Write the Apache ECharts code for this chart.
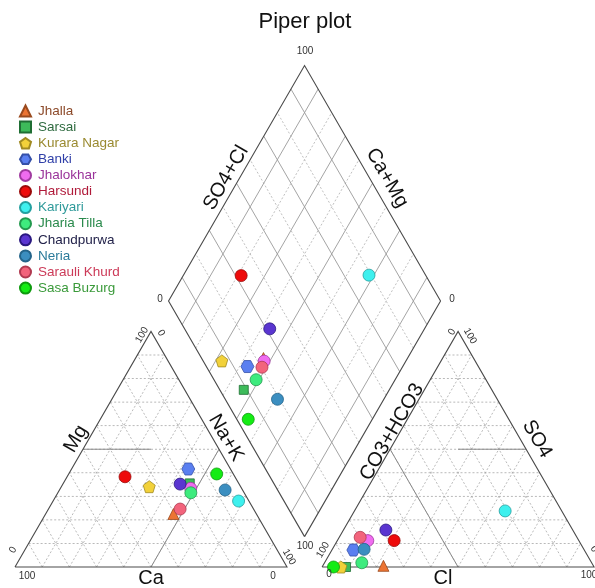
<!DOCTYPE html>
<html>
<head>
<meta charset="utf-8">
<script src="https://cdn.jsdelivr.net/npm/echarts@6/dist/echarts.min.js"></script>
<style>
  html, body { margin: 0; padding: 0; background: #ffffff; }
  #chart { width: 595px; height: 588px; }
</style>
</head>
<body>
<div id="chart"></div>
<script>
// Sampling sites
const sites = ['Jhalla', 'Sarsai', 'Kurara Nagar', 'Banki', 'Jhalokhar', 'Harsundi',
  'Kariyari', 'Jharia Tilla', 'Chandpurwa', 'Neria', 'Sarauli Khurd', 'Sasa Buzurg'];

// Cations, % of total meq/L
const ca  = [30.5, 18.0, 33.6, 15.5, 18.7, 40.4, 3.8, 19.6, 21.7, 6.4, 27.0, 6.1];
const mg  = [22.5, 35.5, 34.1, 41.6, 33.4, 38.3, 28.0, 31.5, 35.2, 32.7, 24.6, 39.5];
const naK = [47.0, 46.5, 32.3, 42.9, 47.9, 21.3, 68.2, 48.9, 43.1, 60.9, 48.4, 54.4];

// Anions, % of total meq/L
const hco3 = [77.2, 91.2, 93.1, 84.9, 77.6, 67.9, 20.8, 84.5, 68.7, 80.8, 79.7, 95.8];
const so4  = [0.5, 0.0, 0.0, 7.2, 11.2, 11.2, 23.8, 1.8, 15.7, 7.5, 12.6, 0.0];
const cl   = [22.3, 8.8, 6.9, 7.9, 11.2, 20.9, 55.4, 13.7, 15.6, 11.7, 7.7, 4.2];

// Marker styles per site
const symbols = ['triangle', 'rect', 'pentagon', 'hexagon', 'circle', 'circle',
  'circle', 'circle', 'circle', 'circle', 'circle', 'circle'];
const fills = ['#ec7433', '#3dbb5a', '#f2d13a', '#5a7ff0', '#f06cf0', '#ee0b0b',
  '#3ef0ee', '#3eeb7e', '#5a35d0', '#3b8ec0', '#f2647c', '#14ec14'];
const strokes = ['#9a4a1e', '#1f6e34', '#a08a22', '#3550a8', '#a03aa0', '#9a0a0a',
  '#24a0a0', '#23994e', '#2a1880', '#24648a', '#b03a50', '#0e9a0e'];
const textColors = ['#8c4a2a', '#2f6b40', '#9a8a30', '#3040a8', '#9a339a', '#b01a3a',
  '#2f9a9a', '#2a8a4c', '#22224a', '#2a7a9a', '#cc3a58', '#3a9a3a'];

const SQ3 = Math.sqrt(3);
const H = SQ3 / 2;
const GAP = 12.9;                        // space between the two triangles
const RX = 100 + GAP;                    // left corner of the anion triangle
const BX = 100 + GAP / 2, BY = GAP / 2 * SQ3;   // bottom corner of the diamond

const PATHS = {
  pentagon: 'path://M0,-10 L9.51,-3.09 L5.88,8.09 L-5.88,8.09 L-9.51,-3.09 Z',
  hexagon: 'path://M-10,0 L-5,-8.66 L5,-8.66 L10,0 L5,8.66 L-5,8.66 Z'
};
const sizes = { triangle: 11, rect: 9, pentagon: 12, hexagon: [13, 12], circle: 12 };

function cationPt(i) { return [naK[i] + mg[i] / 2, mg[i] * H]; }
function anionPt(i) { return [RX + cl[i] + so4[i] / 2, so4[i] * H]; }
function diamondPt(i) {
  const cm = ca[i] + mg[i];
  const sc = so4[i] + cl[i];
  return [BX + (sc - cm) / 2, BY + (sc + cm) * H];
}
// point in the diamond from (Ca+Mg, SO4+Cl) percentages
function dia(cm, sc) { return [BX + (sc - cm) / 2, BY + (sc + cm) * H]; }

// ---- frame and grid ----
const frame = [];
const triGrid = [];
const diaSolid = [];
const diaDot = [];
const classLines = [];

[0, RX].forEach(ox => {
  frame.push({ coords: [[ox, 0], [ox + 100, 0], [ox + 50, 100 * H], [ox, 0]] });
  for (let q = 10; q < 100; q += 10) {
    triGrid.push({ coords: [[ox + q / 2, q * H], [ox + 100 - q / 2, q * H]] });
    triGrid.push({ coords: [[ox + q, 0], [ox + q / 2, q * H]] });
    triGrid.push({ coords: [[ox + q, 0], [ox + q + (100 - q) / 2, (100 - q) * H]] });
  }
});
frame.push({ coords: [dia(0, 0), dia(100, 0), dia(100, 100), dia(0, 100), dia(0, 0)] });
for (let q = 10; q < 100; q += 10) {
  const target = (q / 10) % 2 === 1 ? diaSolid : diaDot;
  target.push({ coords: [dia(q, 0), dia(q, 100)] });
  target.push({ coords: [dia(0, q), dia(100, q)] });
}
// 50 % boundaries in the triangles
classLines.push({ coords: [[25, 50 * H], [50, 50 * H]] });
classLines.push({ coords: [[50, 0], [75, 50 * H]] });
classLines.push({ coords: [[RX + 50, 50 * H], [RX + 75, 50 * H]] });
classLines.push({ coords: [[RX + 50, 0], [RX + 25, 50 * H]] });

// ---- text ----
const FONT = "'Liberation Sans', Arial, sans-serif";
function px(x, y) { return [(x - 15) / 2.72, (567 - y) / 2.72]; }
function txt(text, pos, size, rotate, color) {
  return {
    value: pos,
    label: { formatter: text, fontSize: size, rotate: rotate || 0, color: color || '#111111' }
  };
}
const texts = [
  txt('Piper plot', px(305, 22), 22, 0, '#111111'),
  txt('Ca', px(151, 578), 20),
  txt('Mg', px(76, 439), 20, 60),
  txt('Na+K', px(226, 438), 20, -60),
  txt('Cl', px(443, 578), 20),
  txt('CO3+HCO3', px(392, 432), 20, 60),
  txt('SO4', px(537, 439), 20, -60),
  txt('SO4+Cl', px(226, 178), 20, 60),
  txt('Ca+Mg', px(387, 178), 20, -60),
  txt('100', px(305, 51), 10, 0, '#333'),
  txt('0', px(160, 299), 10, 0, '#333'),
  txt('0', px(452, 299), 10, 0, '#333'),
  txt('100', px(305, 546), 10, 0, '#333'),
  txt('100', px(27, 576), 10, 0, '#333'),
  txt('0', px(273, 576), 10, 0, '#333'),
  txt('0', px(13, 550), 10, 60, '#333'),
  txt('100', px(142, 335), 10, 60, '#333'),
  txt('0', px(161, 333), 10, -60, '#333'),
  txt('100', px(289, 557), 10, -60, '#333'),
  txt('0', px(329, 574), 10, 0, '#333'),
  txt('100', px(589, 575), 10, 0, '#333'),
  txt('100', px(323, 550), 10, 60, '#333'),
  txt('0', px(452, 332), 10, 60, '#333'),
  txt('100', px(470, 336), 10, -60, '#333'),
  txt('0', px(594, 549), 10, -60, '#333')
];

// ---- series ----
function linesSeries(data, color, width, type, z) {
  return {
    type: 'lines', coordinateSystem: 'cartesian2d', polyline: true, silent: true, z: z,
    lineStyle: { color: color, width: width, type: type, opacity: 1 },
    data: data
  };
}

const series = [
  linesSeries(triGrid, '#a8a8a8', 0.8, [2, 2], 1),
  linesSeries(diaDot, '#b0b0b0', 0.8, [2, 2], 1),
  linesSeries(diaSolid, '#9a9a9a', 0.9, 'solid', 1),
  linesSeries(classLines, '#8a8a8a', 1, 'solid', 1),
  linesSeries(frame, '#4a4a4a', 1.1, 'solid', 2)
];

sites.forEach((name, i) => {
  const s = symbols[i];
  series.push({
    name: name,
    type: 'scatter',
    z: 5,
    symbol: PATHS[s] || s,
    symbolSize: sizes[s],
    itemStyle: { color: fills[i], borderColor: strokes[i], borderWidth: 0.8, opacity: 1 },
    data: [cationPt(i), anionPt(i), diamondPt(i)]
  });
});

series.push({
  type: 'scatter', silent: true, z: 6, symbolSize: 0,
  itemStyle: { opacity: 1 },
  label: { show: true, position: 'inside', align: 'center', verticalAlign: 'middle',
    fontFamily: FONT, opacity: 1 },
  data: texts
});

const chart = echarts.init(document.getElementById('chart'), null, { renderer: 'canvas' });
chart.setOption({
  animation: false,
  backgroundColor: '#ffffff',
  grid: { left: 0, right: 0, top: 0, bottom: 0 },
  xAxis: { type: 'value', min: -15 / 2.72, max: 580 / 2.72, show: false },
  yAxis: { type: 'value', min: -21 / 2.72, max: 567 / 2.72, show: false },
  legend: {
    orient: 'vertical', left: 14, top: 99, itemWidth: 11, itemHeight: 11, itemGap: 2.1,
    textStyle: { fontSize: 13.5, fontFamily: FONT, padding: [0, 0, 0, 2] },
    data: sites.map((n, i) => ({ name: n, textStyle: { color: textColors[i] } }))
  },
  series: series
});
</script>
</body>
</html>
